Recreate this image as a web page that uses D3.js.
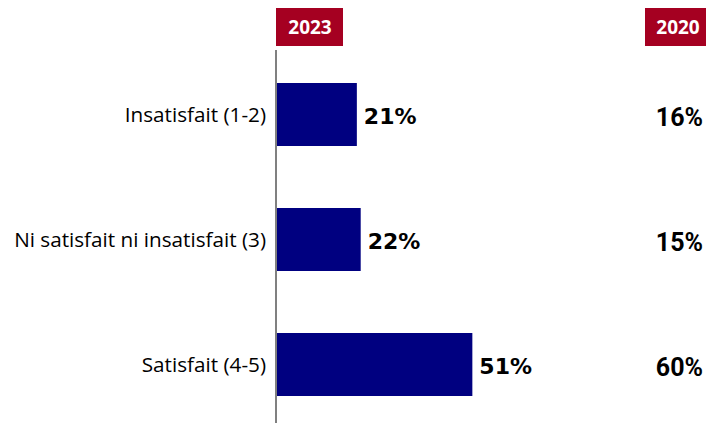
<!DOCTYPE html>
<meta charset="utf-8">
<script src="https://d3js.org/d3.v7.min.js"></script>
<style>
  body { margin: 0; background: #fff; }
</style>
<div id="chart"></div>
<script>
// Data
const categories = ["Insatisfait (1-2)", "Ni satisfait ni insatisfait (3)", "Satisfait (4-5)"];
const values2023 = [21, 22, 51];
const values2020 = [16, 15, 60];
const years = ["2023", "2020"];

const width = 706, height = 423;
const x0 = 276;

const svg = d3.select("#chart").append("svg")
  .attr("width", width)
  .attr("height", height);

// Scales
const x = d3.scaleLinear().domain([0, 100]).range([x0, x0 + 385]);
const y = d3.scaleBand().domain(categories).range([52, 427]).paddingInner(0.496).paddingOuter(0.248);

// Year headers
const headers = [
  { label: years[0], x: 276, w: 67, tx: 310 },
  { label: years[1], x: 645, w: 64, tx: 678 }
];
svg.selectAll("rect.hdr")
  .data(headers)
  .join("rect")
    .attr("class", "hdr")
    .attr("x", d => d.x)
    .attr("y", 8)
    .attr("width", d => d.w)
    .attr("height", 38)
    .attr("fill", "#a50021");
svg.selectAll("text.hdr")
  .data(headers)
  .join("text")
    .attr("class", "hdr")
    .attr("x", d => d.tx)
    .attr("y", 34)
    .attr("text-anchor", "middle")
    .attr("fill", "#fff")
    .style("font-family", "'Open Sans', sans-serif")
    .style("font-weight", "bold")
    .style("font-size", "19px")
    .text(d => d.label);

// Bars
svg.selectAll("rect.bar")
  .data(values2023)
  .join("rect")
    .attr("class", "bar")
    .attr("x", x(0))
    .attr("y", (d, i) => y(categories[i]))
    .attr("width", d => x(d) - x(0))
    .attr("height", y.bandwidth())
    .attr("fill", "#000080");

// Axis line
svg.append("line")
  .attr("x1", x0).attr("x2", x0)
  .attr("y1", 50).attr("y2", height)
  .attr("stroke", "#808080")
  .attr("stroke-width", 2);

// Category labels
svg.selectAll("text.cat")
  .data(categories)
  .join("text")
    .attr("class", "cat")
    .attr("x", 266)
    .attr("y", d => y(d) + y.bandwidth() / 2)
    .attr("dy", "0.36em")
    .attr("text-anchor", "end")
    .attr("fill", "#000")
    .style("font-family", "'Open Sans', sans-serif")
    .style("font-size", "20.7px")
    .text(d => d);

// 2023 value labels
svg.selectAll("text.v23")
  .data(values2023)
  .join("text")
    .attr("class", "v23")
    .attr("x", d => x(d) + 7)
    .attr("y", (d, i) => y(categories[i]) + y.bandwidth() / 2 + 2)
    .attr("dy", "0.36em")
    .attr("fill", "#000")
    .style("font-family", "'DejaVu Sans', sans-serif")
    .style("font-weight", "bold")
    .style("font-size", "22px")
    .text(d => d + "%");

// 2020 value labels
svg.selectAll("text.v20")
  .data(values2020)
  .join("text")
    .attr("class", "v20")
    .attr("x", 703)
    .attr("y", (d, i) => y(categories[i]) + y.bandwidth() / 2 + 2.5)
    .attr("dy", "0.36em")
    .attr("text-anchor", "end")
    .attr("fill", "#000")
    .style("font-family", "Roboto, sans-serif")
    .style("font-weight", "bold")
    .style("font-size", "25px")
    .text(d => d + "%");
</script>
